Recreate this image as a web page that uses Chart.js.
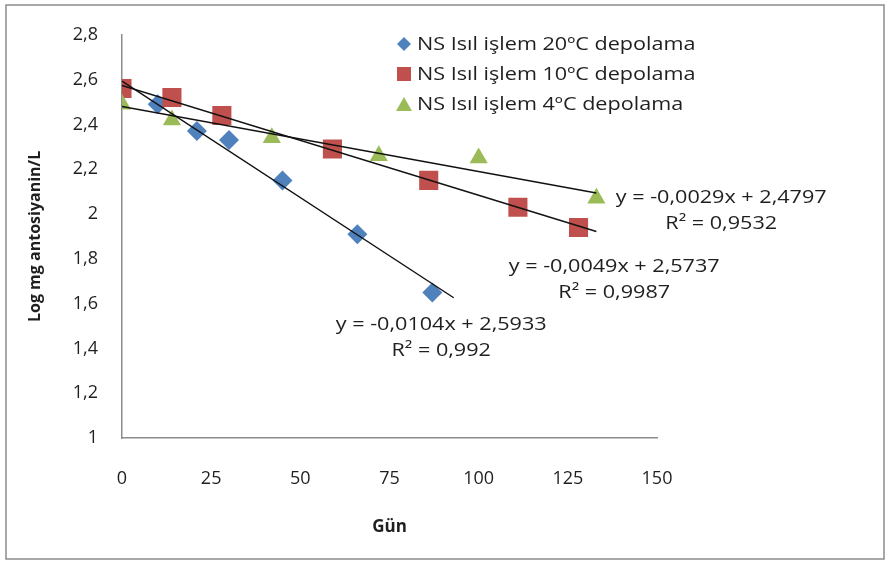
<!DOCTYPE html>
<html>
<head>
<meta charset="utf-8">
<script src="https://cdn.jsdelivr.net/npm/chart.js@4"></script>
<style>
  html, body { margin: 0; padding: 0; background: #fff; }
  #wrap { width: 890px; height: 562px; }
</style>
</head>
<body>
<div id="wrap"><canvas id="chart" width="890" height="562"></canvas></div>
<script>
// Gün (x) and log antosiyanin (y) for each storage temperature
const days20 = [0, 10, 21, 30, 45, 66, 87];
const log20  = [2.56, 2.49, 2.37, 2.33, 2.15, 1.91, 1.65];
const days10 = [0, 14, 28, 59, 86, 111, 128];
const log10  = [2.56, 2.52, 2.44, 2.29, 2.15, 2.03, 1.94];
const days4  = [0, 14, 42, 72, 100, 133];
const log4   = [2.49, 2.42, 2.34, 2.26, 2.25, 2.07];

const seriesNames = ['NS Isıl işlem 20ºC depolama', 'NS Isıl işlem 10ºC depolama', 'NS Isıl işlem 4ºC depolama'];
const seriesColors = ['#4F81BD', '#C0504D', '#9BBB59'];

// linear trend lines: slope, intercept, R², x range
const slopes = [-0.0104, -0.0049, -0.0029];
const intercepts = [2.5933, 2.5737, 2.4797];
const rSquared = ['0,992', '0,9987', '0,9532'];
const trendStart = [0, 0, 0];
const trendEnd = [93, 133, 133];
const eqLabels = ['y = -0,0104x + 2,5933', 'y = -0,0049x + 2,5737', 'y = -0,0029x + 2,4797'];
// where each equation label sits (data coords, label centre)
const eqPosX = [89.5, 138, 168];
const eqPosY = [1.506, 1.763, 2.071];

const xTicks = [0, 25, 50, 75, 100, 125, 150];
const yMin = 1, yMax = 2.8, yStep = 0.2;

const FONT = '"Open Sans", Lato, sans-serif';
const TEXT = '#1f1f1f';
const SX = 1.2; // horizontal stretch for the free text

function pts(xs, ys) { return xs.map((x, i) => ({ x: x, y: ys[i] })); }

const scatterSets = [
  { label: seriesNames[0], data: pts(days20, log20), pointStyle: 'rectRot', pointRadius: 10, order: 5 },
  { label: seriesNames[1], data: pts(days10, log10), pointStyle: 'rect', pointRadius: 13.5, order: 4 },
  { label: seriesNames[2], data: pts(days4, log4), pointStyle: 'triangle', pointRadius: 10.5, order: 3 }
].map((d, i) => Object.assign(d, {
  type: 'scatter',
  backgroundColor: seriesColors[i],
  borderColor: seriesColors[i],
  borderWidth: 0,
  pointHoverRadius: d.pointRadius
}));

const trendSets = slopes.map((m, i) => ({
  type: 'line',
  label: 'trend' + i,
  data: [
    { x: trendStart[i], y: m * trendStart[i] + intercepts[i] },
    { x: trendEnd[i], y: m * trendEnd[i] + intercepts[i] }
  ],
  borderColor: '#111',
  borderWidth: 1.4,
  pointRadius: 0,
  fill: false,
  order: 1
}));

function wideText(c, text, x, y, align) {
  const w = c.measureText(text).width * SX;
  let left = x;
  if (align === 'center') left = x - w / 2;
  else if (align === 'right') left = x - w;
  c.save();
  c.translate(left, y);
  c.scale(SX, 1);
  c.textAlign = 'left';
  c.fillText(text, 0, 0);
  c.restore();
}

// outer frame
const framePlugin = {
  id: 'frame',
  afterDraw(chart) {
    const c = chart.ctx;
    c.save();
    c.strokeStyle = '#8c8c8c';
    c.lineWidth = 1.5;
    c.strokeRect(6, 5, 878, 554);
    c.restore();
  }
};

// legend in the upper right of the plot
const legendPlugin = {
  id: 'sideLegend',
  afterDraw(chart) {
    const c = chart.ctx;
    c.save();
    c.font = '18px ' + FONT;
    c.textBaseline = 'middle';
    const x0 = 404, y0 = 44, gap = 30;
    seriesNames.forEach((name, i) => {
      const y = y0 + i * gap;
      c.fillStyle = seriesColors[i];
      c.beginPath();
      if (i === 0) {
        c.moveTo(x0, y - 7); c.lineTo(x0 + 7, y); c.lineTo(x0, y + 7); c.lineTo(x0 - 7, y);
      } else if (i === 1) {
        c.rect(x0 - 7, y - 7, 14, 14);
      } else {
        c.moveTo(x0, y - 7); c.lineTo(x0 + 8, y + 7); c.lineTo(x0 - 8, y + 7);
      }
      c.closePath();
      c.fill();
      c.fillStyle = TEXT;
      wideText(c, name, x0 + 13, y + 1, 'left');
    });
    c.restore();
  }
};

// trend equations and R² values
const equationPlugin = {
  id: 'equations',
  afterDraw(chart) {
    const c = chart.ctx;
    const xs = chart.scales.x, ys = chart.scales.y;
    c.save();
    c.font = '18px ' + FONT;
    c.fillStyle = TEXT;
    c.textBaseline = 'middle';
    eqLabels.forEach((t, i) => {
      const px = xs.getPixelForValue(eqPosX[i]);
      const py = ys.getPixelForValue(eqPosY[i]);
      wideText(c, t, px, py, 'center');
      wideText(c, 'R² = ' + rSquared[i], px, py + 26, 'center');
    });
    c.restore();
  }
};

new Chart(document.getElementById('chart'), {
  data: { datasets: scatterSets.concat(trendSets) },
  options: {
    responsive: false,
    animation: false,
    events: [],
    layout: { padding: { left: 0, top: 18, right: 233, bottom: 0 } },
    plugins: {
      legend: { display: false },
      tooltip: { enabled: false }
    },
    scales: {
      x: {
        type: 'linear',
        min: 0, max: 150,
        afterFit(s) { s.height = 124; },
        afterBuildTicks(s) { s.ticks = xTicks.map(v => ({ value: v })); },
        grid: { display: false, drawTicks: false },
        border: { display: true, color: '#8c8c8c', width: 1.5 },
        ticks: { padding: 30, color: TEXT, font: { family: FONT, size: 18 } },
        title: {
          display: true, text: 'Gün', color: TEXT,
          font: { family: FONT, size: 17, weight: 'bold' },
          padding: { top: 8, bottom: 25 }
        }
      },
      y: {
        type: 'linear',
        min: yMin, max: yMax,
        afterFit(s) { s.width = 122; },
        grid: { display: false, drawTicks: false },
        border: { display: true, color: '#8c8c8c', width: 1.5 },
        ticks: {
          stepSize: yStep, padding: 24, color: TEXT,
          font: { family: FONT, size: 18 },
          callback: v => (Math.round(v * 10) / 10).toString().replace('.', ',')
        },
        title: {
          display: true, text: 'Log mg antosiyanin/L', color: TEXT,
          font: { family: FONT, size: 16, weight: 'bold' },
          padding: { top: 26, bottom: 0 }
        }
      }
    }
  },
  plugins: [framePlugin, legendPlugin, equationPlugin]
});
</script>
</body>
</html>
